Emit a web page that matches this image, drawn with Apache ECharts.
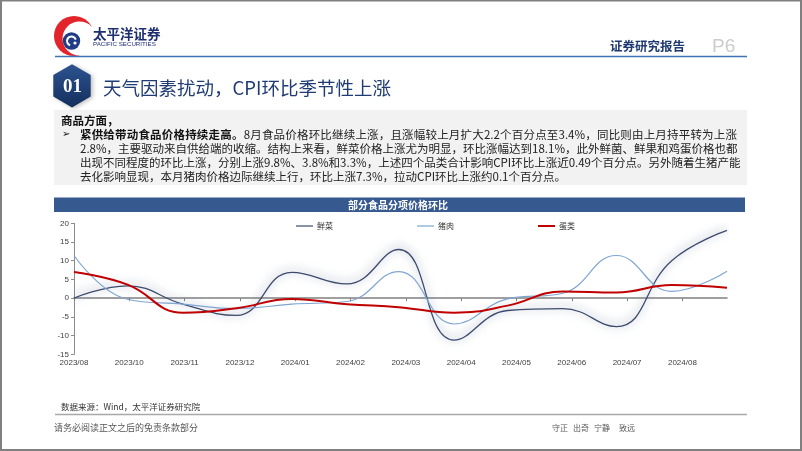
<!DOCTYPE html>
<html>
<head>
<meta charset="utf-8">
<script src="https://cdn.jsdelivr.net/npm/echarts@6/dist/echarts.min.js"></script>
<style>
  html, body { margin: 0; padding: 0; background: #fff; }
  #page { position: relative; width: 802px; height: 451px; overflow: hidden; background: #fff; }
  #chart { position: absolute; left: 0; top: 0; width: 802px; height: 451px; }
  .ln { position: absolute; left: 80px; width: 657px; height: 14px; line-height: 14px;
        font-family: "Noto Sans CJK SC", sans-serif; font-size: 11.5px; color: #222;
        text-align: justify; text-align-last: justify; white-space: nowrap; }
  .ln.last { text-align: left; text-align-last: left; }
  .b { font-weight: bold; color: #111; }
  #head { position: absolute; left: 61px; top: 113px; height: 14px; line-height: 14px;
          font-family: "Noto Sans CJK SC", sans-serif; font-size: 11.5px; font-weight: bold; color: #111; }
  #bullet { position: absolute; left: 62px; top: 127px; line-height: 14px; font-size: 10px; color: #111;
            font-family: "DejaVu Sans", sans-serif; }
</style>
</head>
<body>
<div id="page">
  <div id="chart"></div>
  <div id="head">商品方面，</div>
  <div id="bullet">➢</div>
  <div class="ln" style="top:127px"><span class="b">紧供给带动食品价格持续走高。</span>8月食品价格环比继续上涨，且涨幅较上月扩大2.2个百分点至3.4%，同比则由上月持平转为上涨</div>
  <div class="ln" style="top:141px">2.8%，主要驱动来自供给端的收缩。结构上来看，鲜菜价格上涨尤为明显，环比涨幅达到18.1%，此外鲜菌、鲜果和鸡蛋价格也都</div>
  <div class="ln" style="top:155px">出现不同程度的环比上涨，分别上涨9.8%、3.8%和3.3%，上述四个品类合计影响CPI环比上涨近0.49个百分点。另外随着生猪产能</div>
  <div class="ln last" style="top:169px">去化影响显现，本月猪肉价格边际继续上行，环比上涨7.3%，拉动CPI环比上涨约0.1个百分点。</div>
</div>
<script>
// ---- data ----
const tickLabels = ['2023/08','2023/10','2023/11','2023/12','2024/01','2024/02','2024/03','2024/04','2024/05','2024/06','2024/07','2024/08'];
const tickStepDays = 31;
const dates = ['2023-08-31','2023-09-30','2023-10-31','2023-11-30','2023-12-31','2024-01-31','2024-02-29','2024-03-31','2024-04-30','2024-05-31','2024-06-30','2024-07-31','2024-08-31'];
const vegetables = [0.0, 3.3, -1.6, -4.6, 6.9, 3.8, 13.0, -11.2, -3.3, -2.8, -7.6, 10.0, 18.1];
const pork = [11.4, -0.3, -1.6, -2.8, -1.6, -0.9, 7.1, -6.9, -0.2, 1.3, 11.4, 1.8, 7.2];
const eggs = [7.0, 3.6, -3.9, -2.7, -0.2, -1.6, -2.4, -3.9, -2.0, 1.8, 1.5, 3.5, 2.8];
const seriesNames = ['鲜菜', '猪肉', '蛋类'];
const yMin = -15, yMax = 20, yStep = 5;

// ---- build ----
const t0 = Date.parse(dates[0]);
const dayOf = d => Math.round((Date.parse(d) - t0) / 86400000);
const xs = dates.map(dayOf);
const xMax = xs[xs.length - 1];
const tickValues = tickLabels.map((_, i) => i * tickStepDays);
const pair = arr => arr.map((v, i) => [xs[i], v]);

const cjk = '"Noto Sans CJK SC", sans-serif';
const chart = echarts.init(document.getElementById('chart'), null, { renderer: 'canvas' });

const hexR = 21.6, hcx = 72, hcy = 85.8;
const hexPts = [];
for (let k = 0; k < 6; k++) {
  const a = (-90 + 60 * k) * Math.PI / 180;
  hexPts.push([hcx + hexR * Math.cos(a), hcy + hexR * Math.sin(a)]);
}

const colors = ['#3c4b6e', '#7fa5d2', '#c00000'];
const legendPos = [296, 417, 538];
const legendThick = [1.2, 1.2, 2];

chart.setOption({
  animation: false,
  grid: { left: 74, top: 223.3, width: 653, height: 131 },
  legend: seriesNames.map((n, i) => ({
    data: [{ name: n, icon: 'rect', itemStyle: { color: colors[i] } }],
    left: legendPos[i], top: 222, padding: 0, itemWidth: 17, itemHeight: legendThick[i], itemGap: 0,
    textStyle: { fontSize: 8, color: '#333', fontFamily: cjk, padding: [0, 0, 0, -1] }
  })),
  xAxis: [
    { type: 'value', min: 0, max: xMax, position: 'bottom',
      axisLine: { show: false, onZero: false }, axisTick: { show: false }, splitLine: { show: false },
      axisLabel: { customValues: tickValues, formatter: v => tickLabels[Math.round(v / tickStepDays)] || '',
                   fontSize: 8, color: '#404040', margin: 4, fontFamily: 'Liberation Sans, Arial, sans-serif' } },
    { type: 'value', min: 0, max: xMax, position: 'bottom',
      axisLine: { show: true, onZero: true, lineStyle: { color: '#808080', width: 1.5 } },
      axisTick: { show: true, customValues: tickValues, length: 3, lineStyle: { color: '#808080' } },
      axisLabel: { show: false }, splitLine: { show: false } }
  ],
  yAxis: {
    type: 'value', min: yMin, max: yMax, interval: yStep,
    axisLine: { show: true, lineStyle: { color: '#8c8c8c', width: 1 } },
    axisTick: { show: true, length: 3, lineStyle: { color: '#8c8c8c' } },
    splitLine: { show: false },
    axisLabel: { fontSize: 8, color: '#404040', margin: 5, fontFamily: 'Liberation Sans, Arial, sans-serif' }
  },
  series: [
    { name: seriesNames[0], type: 'line', xAxisIndex: 0, data: pair(vegetables), smooth: 0.45, symbol: 'none',
      lineStyle: { color: colors[0], width: 1.3, shadowColor: 'rgba(105,120,150,0.95)', shadowBlur: 10, shadowOffsetY: -1.5 },
      itemStyle: { color: colors[0] } },
    { name: seriesNames[1], type: 'line', xAxisIndex: 0, data: pair(pork), smooth: 0.45, symbol: 'none',
      lineStyle: { color: colors[1], width: 1.2 }, itemStyle: { color: colors[1] } },
    { name: seriesNames[2], type: 'line', xAxisIndex: 0, data: pair(eggs), smooth: 0.45, symbol: 'none',
      lineStyle: { color: colors[2], width: 2 }, itemStyle: { color: colors[2] } }
  ],
  graphic: [
    // page border
    { type: 'rect', shape: { x: 1, y: 0.5, width: 800, height: 449.5 }, style: { fill: 'none', stroke: '#808080', lineWidth: 2 }, silent: true },
    // logo
    { type: 'circle', shape: { cx: 74, cy: 36, r: 20 }, style: { fill: '#e3242b' } },
    { type: 'circle', shape: { cx: 79.5, cy: 38.5, r: 17 }, style: { fill: '#ffffff' } },
    { type: 'circle', shape: { cx: 71.5, cy: 41, r: 8.7 }, style: { fill: '#223d86' } },
    { type: 'arc', shape: { cx: 71.5, cy: 41, r: 4.5, startAngle: Math.PI * 0.6, endAngle: Math.PI * 1.9 }, style: { stroke: '#fff', lineWidth: 2, fill: 'none' } },
    { type: 'circle', shape: { cx: 75, cy: 43, r: 1.6 }, style: { fill: '#fff' } },
    { type: 'text', x: 93, y: 34, style: { text: '太平洋证券', fontSize: 13.5, fontWeight: 'bold', fill: '#1d2f6f', fontFamily: cjk, verticalAlign: 'middle' } },
    { type: 'text', x: 93, y: 44.5, style: { text: 'PACIFIC SECURITIES', fontSize: 6.2, fill: '#1d2f6f', fontFamily: 'Liberation Sans, Arial, sans-serif', verticalAlign: 'middle' } },
    // header line
    { type: 'line', shape: { x1: 55, y1: 56.5, x2: 747, y2: 56.5 }, style: { stroke: '#3f74b4', lineWidth: 1.5 } },
    { type: 'text', x: 610, y: 46, style: { text: '证券研究报告', fontSize: 12.5, fontWeight: 'bold', fill: '#1f3a70', fontFamily: cjk, verticalAlign: 'middle' } },
    { type: 'text', x: 712, y: 46.5, style: { text: 'P6', fontSize: 19, fill: '#cccccc', fontFamily: 'Liberation Sans, Arial, sans-serif', verticalAlign: 'middle' } },
    // section badge
    { type: 'polygon', shape: { points: hexPts }, style: {
        fill: new echarts.graphic.LinearGradient(0, 0, 0, 1, [{ offset: 0, color: '#2d5390' }, { offset: 1, color: '#142f5e' }]),
        shadowColor: 'rgba(0,0,0,0.25)', shadowBlur: 4, shadowOffsetX: 2, shadowOffsetY: 1 } },
    { type: 'text', x: hcx + 0.5, y: hcy + 1.5, style: { text: '01', fontSize: 19, fontWeight: 'bold', fill: '#fff', fontFamily: 'Liberation Serif, serif', align: 'center', verticalAlign: 'middle' } },
    { type: 'text', x: 103, y: 88, style: { text: '天气因素扰动，CPI环比季节性上涨', fontSize: 18.5, fill: '#1f3c74', fontFamily: cjk, verticalAlign: 'middle' } },
    // text box
    { type: 'rect', shape: { x: 54, y: 110, width: 693, height: 75 }, style: { fill: '#f2f2f2' }, z: -1 },
    // chart title bar
    { type: 'rect', shape: { x: 54, y: 197.5, width: 691, height: 14.5 }, style: { fill: '#36598f' } },
    { type: 'text', x: 398, y: 205, style: { text: '部分食品分项价格环比', fontSize: 10, fontWeight: 'bold', fill: '#fff', fontFamily: cjk, align: 'center', verticalAlign: 'middle' } },
    // source + footer
    { type: 'text', x: 61, y: 407, style: { text: '数据来源：Wind，太平洋证券研究院', fontSize: 8.5, fill: '#333', fontFamily: cjk, verticalAlign: 'middle' } },
    { type: 'line', shape: { x1: 55, y1: 414.5, x2: 747, y2: 414.5 }, style: { stroke: '#a8a8a8', lineWidth: 1.5 } },
    { type: 'text', x: 54, y: 428, style: { text: '请务必阅读正文之后的免责条款部分', fontSize: 9, fill: '#555', fontFamily: cjk, verticalAlign: 'middle' } },
    { type: 'text', x: 552, y: 428, style: { text: '守正', fontSize: 8, fill: '#555', fontFamily: cjk, verticalAlign: 'middle' } },
    { type: 'text', x: 573, y: 428, style: { text: '出奇', fontSize: 8, fill: '#555', fontFamily: cjk, verticalAlign: 'middle' } },
    { type: 'text', x: 594, y: 428, style: { text: '宁静', fontSize: 8, fill: '#555', fontFamily: cjk, verticalAlign: 'middle' } },
    { type: 'text', x: 619, y: 428, style: { text: '致远', fontSize: 8, fill: '#555', fontFamily: cjk, verticalAlign: 'middle' } }
  ]
});
</script>
</body>
</html>
